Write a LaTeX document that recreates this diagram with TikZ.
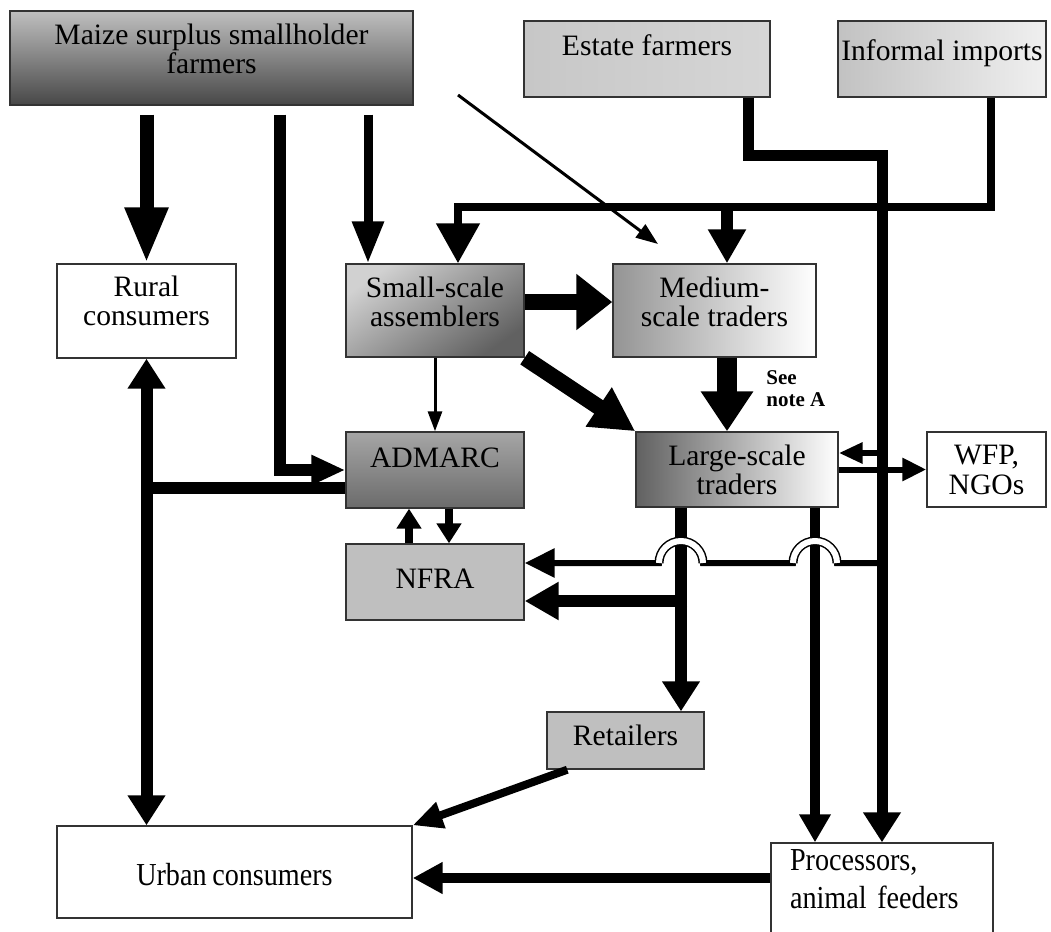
\documentclass[tikz,border=0pt]{standalone}
\usepackage{fontspec}
\setmainfont{Liberation Serif}
\newfontfamily\narrowserif[FakeStretch=0.88,WordSpace=0.8]{Liberation Serif}
\usetikzlibrary{arrows.meta,positioning}
\tikzstyle{block} = [draw=black!80, line width=0.7pt, rectangle, align=center, inner sep=0pt, font=\fontsize{14.8}{14.5}\selectfont]
\tikzstyle{plain} = [block, fill=white]
\tikzstyle{flat} = [block, fill=black!25]
\tikzstyle{bottomtext} = [font=\narrowserif\fontsize{16}{19}\selectfont]
\tikzset{flow/.style={draw, line width=#1},
  arr/.style 2 args={-{Triangle[width=#1,length=#2]}},
  arrs/.style 2 args={{Triangle[width=#1,length=#2]}-{Triangle[width=#1,length=#2]}},
  hop/.style={draw=black, line width=0.75pt, double=white, double distance=3pt}}

\begin{document}
\begin{tikzpicture}[x=0.5pt, y=-0.5pt]
    \useasboundingbox (0,0) rectangle (1051,932);

    % Place nodes
    \node [block, font=\fontsize{14.8}{13.5}\selectfont, top color=black!25, bottom color=black!72, minimum width=201.5pt, minimum height=47pt, text depth=9.5pt] (maize) at (211.5,58) {Maize surplus smallholder\\farmers};
    \node [block, left color=black!22, right color=black!16, minimum width=123pt, minimum height=38pt, text depth=14pt] (estate) at (647,59) {Estate farmers};
    \node [block, left color=black!24, right color=black!6, minimum width=104pt, minimum height=38pt, text depth=9pt, right of=estate, node distance=147.5pt] (informal) {Informal imports};
    \node [plain, minimum width=89.5pt, minimum height=47pt, text depth=10pt] (rural) at (146.5,311) {Rural\\consumers};
    \node [block, top color=black!18, bottom color=black!62, shading angle=35, minimum width=89pt, minimum height=46.5pt, text depth=8.5pt] (small) at (435,310.5) {Small-scale\\assemblers};
    \node [block, left color=black!42, right color=white, minimum width=101.5pt, minimum height=46.5pt, text depth=8.5pt, right of=small, node distance=139.75pt] (medium) {Medium-\\scale traders};
    \node [block, top color=black!35, bottom color=black!58, minimum width=89pt, minimum height=38pt, text depth=12pt] (admarc) at (435,470) {ADMARC};
    \node [flat, minimum width=89pt, minimum height=38pt, text depth=3pt, below of=admarc, node distance=56pt] (nfra) {NFRA};
    \node [block, left color=black!62, right color=white, minimum width=101pt, minimum height=37.5pt] (large) at (737,469.5) {Large-scale\\traders};
    \node [plain, font=\fontsize{14.8}{15}\selectfont, minimum width=59.5pt, minimum height=37.5pt, right of=large, node distance=124.75pt] (wfp) {WFP,\\NGOs};
    \node [flat, minimum width=78.5pt, minimum height=28.5pt, text depth=5pt] (retail) at (625.5,740.5) {Retailers};
    \node [plain, bottomtext, text height=14pt, minimum width=177.5pt, minimum height=46pt] (urban) at (234.5,872) {Urban consumers};
    \node [plain, bottomtext, align=left, text width=92pt, minimum width=111pt, minimum height=48.5pt, text depth=31.5pt] (proc) at (882,891.5) {Processors,\\animal feeders};
    \node [font=\bfseries\fontsize{10.5}{11}\selectfont, align=left, anchor=north west, inner sep=0pt] (noteA) at (766,370) {See\\note A};

    % Lanes and turning points of the flows
    \coordinate (xa) at (280,0);
    \coordinate (xs) at (368,0);
    \coordinate (xt) at (458,0);
    \coordinate (xu) at (409,0);
    \coordinate (xd) at (449,0);
    \coordinate (xl) at (681,0);
    \coordinate (xm) at (727,0);
    \coordinate (xe) at (748,0);
    \coordinate (xr) at (815,0);
    \coordinate (xb) at (882,0);
    \coordinate (xi) at (991,0);
    \coordinate (ye) at (0,155);
    \coordinate (yi) at (0,207);
    \coordinate (ysm) at (0,302);
    \coordinate (ya) at (0,453);
    \coordinate (yad) at (0,470);
    \coordinate (yj) at (0,488);
    \coordinate (yu) at (0,563);
    \coordinate (yl) at (0,601);
    \coordinate (yp) at (0,878);
    \coordinate (thinA) at (458,95);
    \coordinate (thinB) at (658,244);

    % Draw edges
    \path [flow=7pt, arr={20pt}{28pt}] ([yshift=-4.5pt]rural.north |- maize.south) -- (rural.north);
    \path [flow=6pt, arr={14pt}{17pt}] ([yshift=-4.5pt]xa |- maize.south) -- (xa |- yad) -- (admarc.west |- yad);
    \path [flow=4.5pt, arr={15pt}{21pt}] ([yshift=-4.5pt]xs |- maize.south) -- (xs |- small.north);
    \path [flow=1.5pt, arr={8pt}{11pt}] (thinA) -- (thinB);
    \path [flow=5.5pt, arr={18pt}{15pt}] (xe |- estate.south) -- (xe |- ye) -- (xb |- ye) -- (proc.north);
    \path [flow=4pt, arr={21pt}{20pt}] (xi |- informal.south) -- (xi |- yi) -- (xt |- yi) -- (xt |- small.north);
    \path [flow=6pt, arr={18pt}{17pt}] (xm |- yi) -- (xm |- medium.north);
    \path [flow=8pt, arr={27pt}{18pt}] (small.east |- ysm) -- (medium.west |- ysm);
    \path [flow=8pt, arr={22pt}{22pt}] (small.south east) -- (large.north west);
    \path [flow=1.5pt, arr={7pt}{10pt}] (small.south) -- (admarc.north);
    \path [flow=10pt, arr={25pt}{20pt}] (xm |- medium.south) -- (xm |- large.north);
    \path [flow=6pt, arrs={18pt}{15pt}] (rural.south) -- (rural.south |- urban.north);
    \path [flow=6pt] (admarc.west |- yj) -- (rural.south |- yj);
    \path [flow=4pt, arr={12pt}{10pt}] (xu |- nfra.north) -- (xu |- admarc.south);
    \path [flow=4pt, arr={12pt}{10pt}] (xd |- admarc.south) -- (xd |- nfra.north);
    \path [flow=6pt, arr={18pt}{15pt}] (xl |- large.south) -- (xl |- retail.north);
    \path [flow=6pt, arr={18pt}{17pt}] ([xshift=3pt]xl |- yl) -- (nfra.east |- yl);
    \path [flow=5pt, arr={15pt}{14pt}] (xr |- large.south) -- (xr |- proc.north);
    \path [flow=3pt, arr={14pt}{15pt}] (xb |- yu) -- ([xshift=11pt]xr |- yu) arc (0:180:11pt) -- ([xshift=11pt]xl |- yu) arc (0:180:11pt) -- (nfra.east |- yu);
    \path [hop] ([xshift=11pt]xr |- yu) arc (0:180:11pt);
    \path [hop] ([xshift=11pt]xl |- yu) arc (0:180:11pt);
    \path [flow=3pt, arr={10pt}{12pt}] (xb |- ya) -- (large.east |- ya);
    \path [flow=3pt, arr={11pt}{12pt}] (large.east) -- (wfp.west);
    \path [flow=4pt, arr={13pt}{15pt}] ([xshift=10.5pt]retail.south west) -- (urban.north east);
    \path [flow=5pt, arr={15pt}{15pt}] (proc.west |- yp) -- (urban.east |- yp);
\end{tikzpicture}
\end{document}
